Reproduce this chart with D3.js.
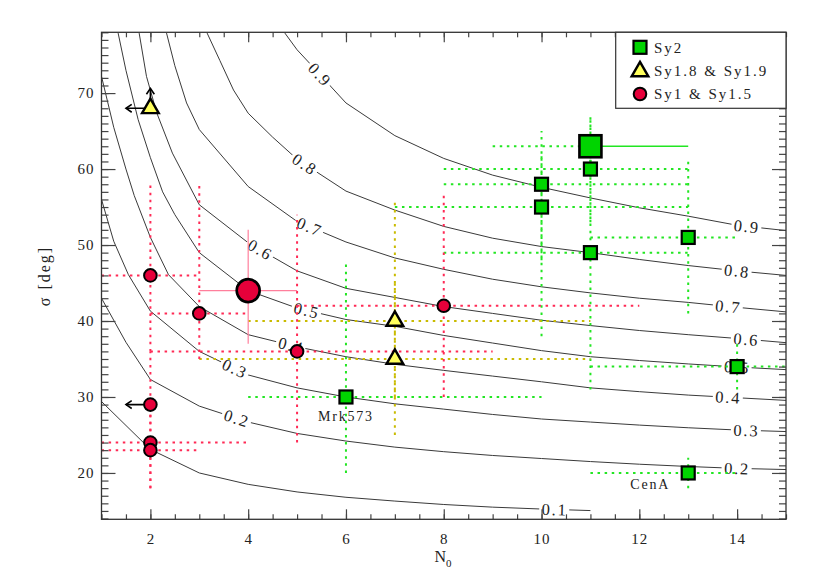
<!DOCTYPE html>
<html><head><meta charset="utf-8">
<script src="https://cdn.jsdelivr.net/npm/d3@7"></script>
<style>body{margin:0;background:#fff} text{font-family:"Liberation Serif","DejaVu Serif",serif}</style>
</head><body><svg id="c" width="817" height="584"></svg>
<script>
// ---------------- data ----------------
const contourLevels = ["0.1","0.2","0.3","0.4","0.5","0.6","0.7","0.8","0.9"];
const cont01 = [[1,29.4],[2,23.1],[3,20.0],[4,18.5],[5,17.5],[6,16.8],[7,16.3],[8,15.85],[9,15.5],[10,15.25],[11,15.05]];
const cont02 = [[1,43.0],[1.5,37.2],[2,32.3],[3,28.8],[4,26.7],[5,25.2],[6,24.2],[7,23.4],[8,22.8],[9,22.3],[10,21.9],[11,21.5],[12,21.15],[13,20.85],[14,20.6],[15,20.45]];
const cont03 = [[1,56.0],[1.25,50.5],[1.55,46.1],[2,41.3],[3,36.0],[4,32.9],[5,31.2],[6,30.0],[7,29.1],[8,28.4],[9,27.7],[10,27.1],[11,26.7],[12,26.3],[13,25.95],[14,25.65],[15,25.45]];
const cont04 = [[1,72.2],[1.25,65.5],[1.5,60.0],[1.67,56.5],[2,51.0],[2.37,46.1],[3,41.9],[4,38.2],[5,36.6],[6,35.3],[7,34.3],[8,33.5],[9,32.75],[10,32.0],[11,31.2],[12,30.7],[13,30.25],[14,29.9],[15,29.55]];
const cont05 = [[1.34,77.9],[1.5,73.0],[1.75,66.5],[2,61.5],[2.25,57.0],[2.5,54.0],[3,49.0],[4,44.0],[5,41.7],[6,40.2],[7,39.3],[8,38.1],[9,37.1],[10,36.1],[11,35.3],[12,34.8],[13,34.35],[14,33.95],[15,33.6]];
const cont06 = [[1.77,77.9],[1.92,72.2],[2.13,67.4],[2.45,62.1],[3,55.3],[4,50.3],[5,46.6],[6,44.3],[7,43.1],[8,41.9],[9,41.0],[10,40.1],[11,39.4],[12,38.75],[13,38.2],[14,37.7],[15,37.15]];
const cont07 = [[2.33,77.9],[2.5,73.6],[2.74,68.7],[3,65.2],[4,57.7],[5,53.1],[6,50.4],[7,48.3],[8,46.8],[9,45.5],[10,44.5],[11,43.7],[12,43.0],[13,42.45],[14,41.8],[15,41.2]];
const cont08 = [[3.16,77.9],[3.42,74.3],[3.7,70.4],[4,67.35],[4.5,64.2],[5,61.3],[6,57.1],[7,54.6],[8,52.45],[9,50.9],[10,49.8],[11,49.0],[12,48.1],[13,47.3],[14,46.6],[15,46.0]];
const cont09 = [[4.75,77.9],[5,75.7],[5.26,73.9],[5.5,72.2],[6,68.7],[7,64.4],[8,61.4],[9,59.2],[10,57.6],[11,56.2],[12,54.9],[13,53.8],[14,52.6],[15,51.9]];
const labelInnerN = [10.27,3.77,3.73,4.88,5.2,4.25,5.26,5.16,5.47];
const labelRightN = [null,14.0,14.19,13.82,14.0,14.19,13.82,14.0,14.2];

// Sy2 (squares): N, sigma, N-range, sigma-range
const sy2N     = [6, 10, 10, 11, 11, 13, 14, 13];
const sy2Sigma = [30, 58, 55, 60, 49, 51, 34, 20];
const sy2NErr  = [[4,10],[8,13],[7,13],[8,13],[8,13],[11,14],[11,15.5],[11,14]];
const sy2SErr  = [[20,48],[48,65],[38,62],[53,67],[31,62],[41,61],[31,37],[18,22]];
const sy2Names = ["Mrk573","","","","","","","CenA"];
const sy2Main  = {N:11, sigma:63, nErr:[9,13], sErr:[59,67]};

// Sy1.8 & Sy1.9 (triangles)
const sy18N     = [7, 7];
const sy18Sigma = [40, 35];
const sy18NErr  = [[4,11],[3,11]];
const sy18SErr  = [[30,56],[25,45]];
const sy18Limit = {N:2, sigma:68, nTo:1.5, sTo:70.6};

// Sy1 & Sy1.5 (circles)
const sy1N     = [2, 3, 5, 8, 2, 2];
const sy1Sigma = [46, 41, 36, 42, 24, 23];
const sy1NErr  = [[1,3],[2,4],[2,9],[5,12],[1,4],[1,3]];
const sy1SErr  = [[36,58],[35,58],[24,54],[30,57],[18,36],[18,30]];
const sy1Main  = {N:4, sigma:44, nErr:[3,5], sErr:[37,52]};
const sy1Limit = {N:2, sigma:29, nTo:1.5};

const xTicks = [2,4,6,8,10,12,14];
const yTicks = [20,30,40,50,60,70];
const legendLabels = ["Sy2","Sy1.8 & Sy1.9","Sy1 & Sy1.5"];

// ---------------- drawing ----------------
const contours = [cont01,cont02,cont03,cont04,cont05,cont06,cont07,cont08,cont09];
const svg = d3.select("#c");
const L=101.5, R=786, T=32.3, B=519.3;
const x = d3.scaleLinear().domain([1,15]).range([L,R]);
const y = d3.scaleLinear().domain([13.9,78]).range([B,T]);

svg.append("defs").append("clipPath").attr("id","pa")
  .append("rect").attr("x",L).attr("y",T).attr("width",R-L).attr("height",B-T);

const plot = svg.append("g").attr("clip-path","url(#pa)");
const line = d3.line().x(d=>x(d[0])).y(d=>y(d[1]));

const GREEN="#22e622", RED="#ff2a55", OLIVE="#c9bb00";

// contour lines
plot.append("g").selectAll("path").data(contours).join("path")
  .attr("d",line).attr("fill","none").attr("stroke","#3a3a3a").attr("stroke-width",1);

// contour labels (white box behind each to break the line)
function labelInfo(pts,n){
  for(let i=0;i<pts.length-1;i++){
    const a=pts[i],b=pts[i+1];
    if(n>=a[0]&&n<=b[0]){
      const t=(n-a[0])/(b[0]-a[0]);
      const s=a[1]+t*(b[1]-a[1]);
      const ang=Math.atan2(y(b[1])-y(a[1]),x(b[0])-x(a[0]))*180/Math.PI;
      return {px:x(n),py:y(s),ang};
    }
  }
  return null;
}
const labs=[];
contours.forEach((c,i)=>{
  [labelInnerN[i],labelRightN[i]].forEach(n=>{
    if(n==null) return;
    const inf=labelInfo(c,n); if(inf) labs.push({...inf,t:contourLevels[i]});
  });
});
const lgs = plot.append("g").selectAll("g").data(labs).join("g")
  .attr("transform",d=>`translate(${d.px},${d.py}) rotate(${d.ang})`);
lgs.each(function(d){
  const g=d3.select(this);
  const tx=g.append("text").attr("text-anchor","middle").attr("dy","0.35em")
    .attr("font-size",16.5).attr("letter-spacing",1.8).attr("fill","#222").text(d.t);
  const bb=tx.node().getBBox();
  g.insert("rect","text").attr("x",bb.x-2.5).attr("y",-5).attr("width",bb.width+4).attr("height",10).attr("fill","#fff");
});

// error bars
function bars(g,Ns,Ss,NE,SE,color){
  const dash="2.5,4.6";
  Ns.forEach((n,i)=>{
    g.append("line").attr("x1",x(NE[i][0])).attr("x2",x(NE[i][1])).attr("y1",y(Ss[i])).attr("y2",y(Ss[i]))
      .attr("stroke",color).attr("stroke-width",2).attr("stroke-dasharray",dash);
    g.append("line").attr("x1",x(n)).attr("x2",x(n)).attr("y1",y(SE[i][0])).attr("y2",y(SE[i][1]))
      .attr("stroke",color).attr("stroke-width",2).attr("stroke-dasharray",dash);
  });
}
const eb = plot.append("g");
bars(eb,sy2N,sy2Sigma,sy2NErr,sy2SErr,GREEN);
bars(eb,sy18N,sy18Sigma,sy18NErr,sy18SErr,OLIVE);
bars(eb,sy1N,sy1Sigma,sy1NErr,sy1SErr,RED);
// bars of the two highlighted objects
eb.append("line").attr("x1",x(sy1Main.nErr[0])).attr("x2",x(sy1Main.nErr[1])).attr("y1",y(sy1Main.sigma)).attr("y2",y(sy1Main.sigma)).attr("stroke","#ff7f9c").attr("stroke-width",1.2);
eb.append("line").attr("x1",x(sy1Main.N)).attr("x2",x(sy1Main.N)).attr("y1",y(sy1Main.sErr[0])).attr("y2",y(sy1Main.sErr[1])).attr("stroke","#ff7f9c").attr("stroke-width",1.2);
eb.append("line").attr("x1",x(sy2Main.nErr[0])).attr("x2",x(sy2Main.N)).attr("y1",y(sy2Main.sigma)).attr("y2",y(sy2Main.sigma)).attr("stroke",GREEN).attr("stroke-width",2).attr("stroke-dasharray","2.5,4.6");
eb.append("line").attr("x1",x(sy2Main.N)).attr("x2",x(sy2Main.nErr[1])).attr("y1",y(sy2Main.sigma)).attr("y2",y(sy2Main.sigma)).attr("stroke",GREEN).attr("stroke-width",1.3);
eb.append("line").attr("x1",x(sy2Main.N)).attr("x2",x(sy2Main.N)).attr("y1",y(sy2Main.sErr[0])).attr("y2",y(sy2Main.sErr[1])).attr("stroke",GREEN).attr("stroke-width",2).attr("stroke-dasharray","2.5,4.6");

// arrows
function arrow(g,x1,y1,x2,y2){
  g.append("line").attr("x1",x1).attr("y1",y1).attr("x2",x2).attr("y2",y2).attr("stroke","#000").attr("stroke-width",1.6);
  const a=Math.atan2(y2-y1,x2-x1), h=7, w=0.6;
  g.append("path").attr("d",`M${x2-h*Math.cos(a-w)},${y2-h*Math.sin(a-w)}L${x2},${y2}L${x2-h*Math.cos(a+w)},${y2-h*Math.sin(a+w)}`)
    .attr("fill","none").attr("stroke","#000").attr("stroke-width",1.6);
}
const ar = plot.append("g");
arrow(ar,x(sy18Limit.N),y(sy18Limit.sigma),x(sy18Limit.nTo),y(sy18Limit.sigma));
arrow(ar,x(sy18Limit.N),y(sy18Limit.sigma),x(sy18Limit.N),y(sy18Limit.sTo));
arrow(ar,x(sy1Limit.N),y(sy1Limit.sigma),x(sy1Limit.nTo),y(sy1Limit.sigma));

// markers
const mk = plot.append("g");
const GFILL="#00d400", RFILL="#e6003a", YFILL="#ffff5c";
function square(g,cx,cy,s){ g.append("rect").attr("x",cx-s/2).attr("y",cy-s/2).attr("width",s).attr("height",s).attr("fill",GFILL).attr("stroke","#000").attr("stroke-width",s>18?2.6:2.2); }
function tri(g,cx,cy,s){ g.append("path").attr("transform",`translate(${cx},${cy})`).attr("d",d3.symbol(d3.symbolTriangle,s)()).attr("fill",YFILL).attr("stroke","#000").attr("stroke-width",2.4).attr("stroke-linejoin","miter"); }
function circ(g,cx,cy,r){ g.append("circle").attr("cx",cx).attr("cy",cy).attr("r",r).attr("fill",RFILL).attr("stroke","#000").attr("stroke-width",r>9?2.6:2); }
sy2N.forEach((n,i)=>square(mk,x(n),y(sy2Sigma[i]),13));
square(mk,x(sy2Main.N),y(sy2Main.sigma),22);
sy18N.forEach((n,i)=>tri(mk,x(n),y(sy18Sigma[i]),120));
tri(mk,x(sy18Limit.N),y(sy18Limit.sigma),120);
sy1N.forEach((n,i)=>circ(mk,x(n),y(sy1Sigma[i]),6.3));
circ(mk,x(sy1Limit.N),y(sy1Limit.sigma),6.3);
circ(mk,x(sy1Main.N),y(sy1Main.sigma),11.5);

// object names
const nameDx = [0,0,0,0,0,0,0,-38], nameDy=[24,0,0,0,0,0,0,16];
sy2N.forEach((n,i)=>{
  if(!sy2Names[i]) return;
  svg.append("text").attr("x",x(n)+nameDx[i]).attr("y",y(sy2Sigma[i])+nameDy[i])
    .attr("text-anchor","middle").attr("font-size",14).attr("letter-spacing",1.8).attr("fill","#222").text(sy2Names[i]);
});

// axes (ticks inside, on all four sides)
const xMinor = d3.range(1,15.01,0.5), yMinor = d3.range(14,78.01,1);
function ax(gen,tr){ const g=svg.append("g").attr("transform",tr).call(gen); g.select(".domain").remove(); g.selectAll("line").attr("stroke","#444").attr("stroke-width",1.2); g.selectAll("text").attr("font-size",15).attr("letter-spacing",1).attr("fill","#222").attr("font-family","Liberation Serif"); return g;}
ax(d3.axisBottom(x).tickValues(xMinor).tickSize(-5).tickFormat(""),`translate(0,${B})`);
ax(d3.axisBottom(x).tickValues(xTicks).tickSize(-10).tickPadding(14).tickFormat(d3.format("d")),`translate(0,${B})`);
ax(d3.axisTop(x).tickValues(xMinor).tickSize(-5).tickFormat(""),`translate(0,${T})`);
ax(d3.axisTop(x).tickValues(xTicks).tickSize(-10).tickFormat(""),`translate(0,${T})`);
ax(d3.axisLeft(y).tickValues(yMinor).tickSize(-7).tickFormat(""),`translate(${L},0)`);
ax(d3.axisLeft(y).tickValues(yTicks).tickSize(-14).tickPadding(7).tickFormat(d3.format("d")),`translate(${L},0)`);
ax(d3.axisRight(y).tickValues(yMinor).tickSize(-7).tickFormat(""),`translate(${R},0)`);
ax(d3.axisRight(y).tickValues(yTicks).tickSize(-14).tickFormat(""),`translate(${R},0)`);
svg.append("rect").attr("x",L).attr("y",T).attr("width",R-L).attr("height",B-T).attr("fill","none").attr("stroke","#333").attr("stroke-width",1.3);

// axis titles
const xt = svg.append("text").attr("x",443).attr("y",562).attr("text-anchor","middle").attr("font-size",16).attr("fill","#222");
xt.append("tspan").text("N");
xt.append("tspan").attr("font-size",11).attr("dy",5).text("0");
svg.append("text").attr("transform","translate(50,276) rotate(-90)").attr("text-anchor","middle").attr("font-size",16).attr("letter-spacing",2).attr("fill","#222").text("σ [deg]");

// legend
const lg = svg.append("g");
lg.append("rect").attr("x",615.7).attr("y",T).attr("width",R-615.7).attr("height",76).attr("fill","#fff").attr("stroke","#333").attr("stroke-width",1.2);
const ly=[47.3,70.5,94];
square(lg,640,ly[0],13);
tri(lg,640,ly[1]+1,120);
circ(lg,640,ly[2],6.3);
legendLabels.forEach((t,i)=>lg.append("text").attr("x",654).attr("y",ly[i]).attr("dy","0.35em").attr("font-size",15).attr("letter-spacing",2).attr("fill","#222").text(t));
</script></body></html>
